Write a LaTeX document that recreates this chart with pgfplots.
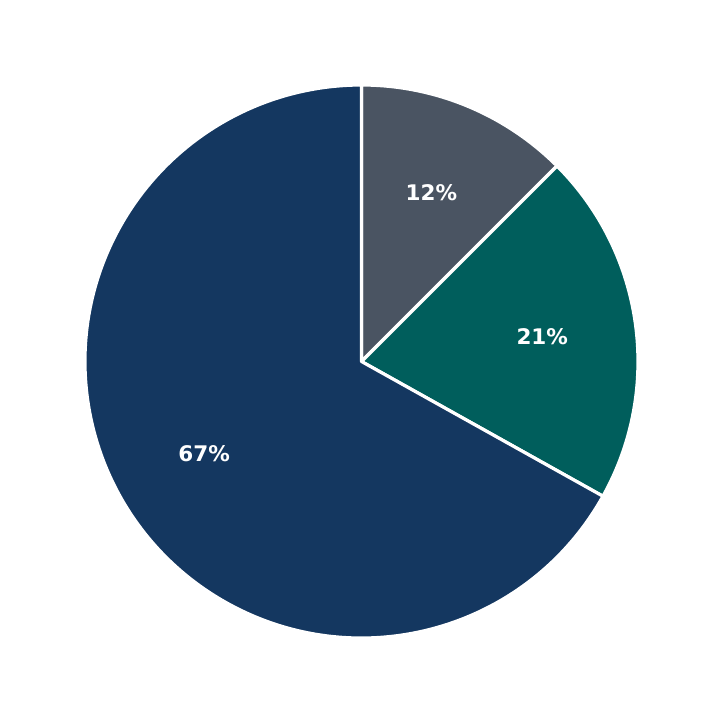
\documentclass[border=0pt]{standalone}
\usepackage{fontspec}
\setmainfont{DejaVu Sans}
\usepackage{pgfplots}
\usepackage{pgfplotstable}
\pgfplotsset{compat=1.18}

\definecolor{slate}{RGB}{74,84,98}
\definecolor{tealc}{RGB}{0,94,92}
\definecolor{navy}{RGB}{20,55,96}

% shares in percent, clockwise from the top
\pgfplotstableread{
label value
12 12.5
21 20.6
67 66.9
}\piedata

\begin{document}
\begin{tikzpicture}
\pgfplotstablegetelem{0}{value}\of\piedata \let\va\pgfplotsretval
\pgfplotstablegetelem{1}{value}\of\piedata \let\vb\pgfplotsretval
\pgfplotstablegetelem{2}{value}\of\piedata \let\vc\pgfplotsretval
\pgfmathsetmacro\aA{90}
\pgfmathsetmacro\aB{90-3.6*\va}
\pgfmathsetmacro\aC{\aB-3.6*\vb}
\pgfmathsetmacro\aD{\aC-3.6*\vc}
\pgfmathsetmacro\mA{(\aA+\aB)/2}
\pgfmathsetmacro\mB{(\aB+\aC)/2}
\pgfmathsetmacro\mC{(\aC+\aD)/2}
\def\R{276.5}
\begin{axis}[
    scale only axis,
    width=723bp, height=723bp,
    xmin=-361.5, xmax=361.5,
    ymin=-361.5, ymax=361.5,
    hide axis,
    clip=false,
]
% keep the full square as the page
\path (axis cs:-361.5,-361.5) rectangle (axis cs:361.5,361.5);
\filldraw[fill=slate, draw=white, line width=3.2bp, line join=round]
    (axis cs:0,0) -- (axis cs:{\R*cos(\aA)},{\R*sin(\aA)})
    arc[start angle=\aA, end angle=\aB, radius=\R bp] -- cycle;
\filldraw[fill=tealc, draw=white, line width=3.2bp, line join=round]
    (axis cs:0,0) -- (axis cs:{\R*cos(\aB)},{\R*sin(\aB)})
    arc[start angle=\aB, end angle=\aC, radius=\R bp] -- cycle;
\filldraw[fill=navy, draw=white, line width=3.2bp, line join=round]
    (axis cs:0,0) -- (axis cs:{\R*cos(\aC)},{\R*sin(\aC)})
    arc[start angle=\aC, end angle=\aD, radius=\R bp] -- cycle;
\node[text=white, font=\fontsize{21.5bp}{24bp}\selectfont\bfseries]
    at (axis cs:{0.66*\R*cos(\mA)},{0.66*\R*sin(\mA)}) {12\%};
\node[text=white, font=\fontsize{21.5bp}{24bp}\selectfont\bfseries]
    at (axis cs:{0.66*\R*cos(\mB)},{0.66*\R*sin(\mB)}) {21\%};
\node[text=white, font=\fontsize{21.5bp}{24bp}\selectfont\bfseries]
    at (axis cs:{0.66*\R*cos(\mC)},{0.66*\R*sin(\mC)}) {67\%};
\end{axis}
\end{tikzpicture}
\end{document}
